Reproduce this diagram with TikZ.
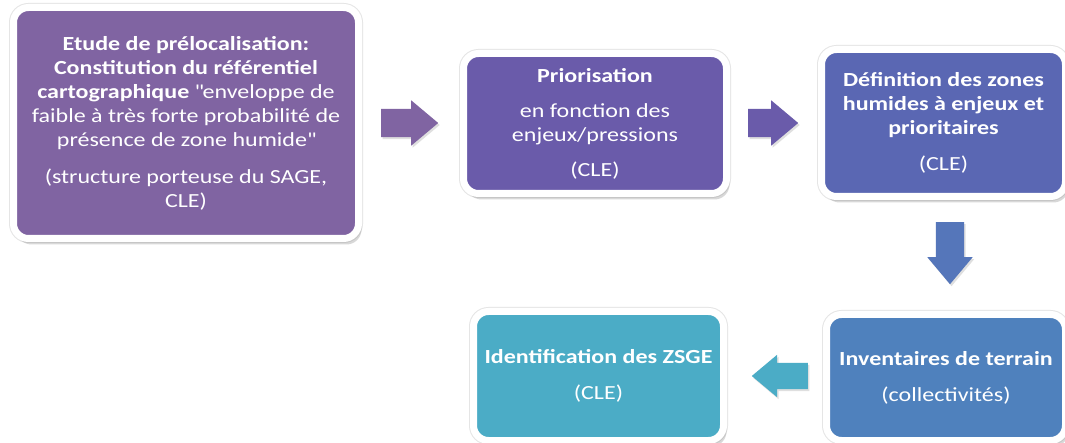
\documentclass[tikz,border=0pt]{standalone}
\usepackage{fontspec}
\setmainfont{Carlito}[FakeStretch=1.2]
\usetikzlibrary{shapes.arrows, shadows, calc}

\definecolor{prelPurple}{HTML}{8064A2}
\definecolor{prioPurple}{HTML}{6A5BAA}
\definecolor{defBlue}{HTML}{5A67B3}
\definecolor{invBlue}{HTML}{4F81BD}
\definecolor{idAqua}{HTML}{4BACC6}
\definecolor{arrowBlue}{HTML}{5576BA}

\tikzstyle{stage} = [rectangle, rounded corners=15pt, draw=white,
   line width=7pt, text=white, align=center,
   font=\fontsize{20}{24}\selectfont,
   preaction={draw=black!10, line width=9pt},
   drop shadow={shadow xshift=3pt, shadow yshift=-6pt, opacity=0.3}]
\tikzstyle{blockArrow} = [single arrow, inner xsep=0pt, inner ysep=14pt,
   single arrow head extend=8.5pt, single arrow tip angle=80,
   minimum height=57pt, anchor=tail,
   drop shadow={shadow xshift=1.5pt, shadow yshift=-2pt, opacity=0.25}]

\begin{document}
\begin{tikzpicture}[x=1pt, y=-1pt]
  \useasboundingbox[fill=white] (0,0) rectangle (1065,443);
  \node[stage, fill=prelPurple, minimum width=345pt, minimum height=231pt]
    (prel) at (186,123) {\textbf{Etude de prélocalisation:}\\
      \textbf{Constitution du référentiel}\\
      \textbf{cartographique} \textquotedbl enveloppe de\\
      faible à très forte probabilité de\\
      présence de zone humide\textquotedbl\\[13pt]
      (structure porteuse du SAGE,\\
      CLE)};
  \node[stage, fill=prioPurple, minimum width=263pt, minimum height=140pt]
    (prio) at (595,123.5) {\textbf{Priorisation}\\[11pt]
      en fonction des\\
      enjeux/pressions\\[11pt]
      (CLE)};
  \node[stage, fill=defBlue, minimum width=244pt, minimum height=147pt]
    (def) at (943.5,123) {\textbf{Définition des zones}\\
      \textbf{humides à enjeux et}\\
      \textbf{prioritaires}\\[12pt]
      (CLE)};
  \node[stage, fill=invBlue, minimum width=239pt, minimum height=126pt]
    (inv) at (946,377.5) {\textbf{Inventaires de terrain}\\[12pt]
      (collectivités)};
  \node[stage, fill=idAqua, minimum width=250pt, minimum height=129pt]
    (ident) at (598.5,376) {\textbf{Identification des ZSGE}\\[12pt]
      (CLE)};
  % block arrows in the gaps, placed by their tails
  \node[blockArrow, fill=prelPurple] (a1) at ($(prel.east)+(19,0)$) {};
  \node[blockArrow, fill=prioPurple, minimum height=50pt]
    (a2) at ($(prio.east)+(18,-0.5)$) {};
  \node[blockArrow, fill=arrowBlue, minimum height=62pt, rotate=-90]
    (a3) at ($(def.south)+(6.5,22)$) {};
  \node[blockArrow, fill=idAqua, inner ysep=13pt, single arrow head extend=8pt,
    minimum height=56pt, rotate=180] (a4) at ($(inv.west)+(-15,-1.5)$) {};
\end{tikzpicture}
\end{document}
